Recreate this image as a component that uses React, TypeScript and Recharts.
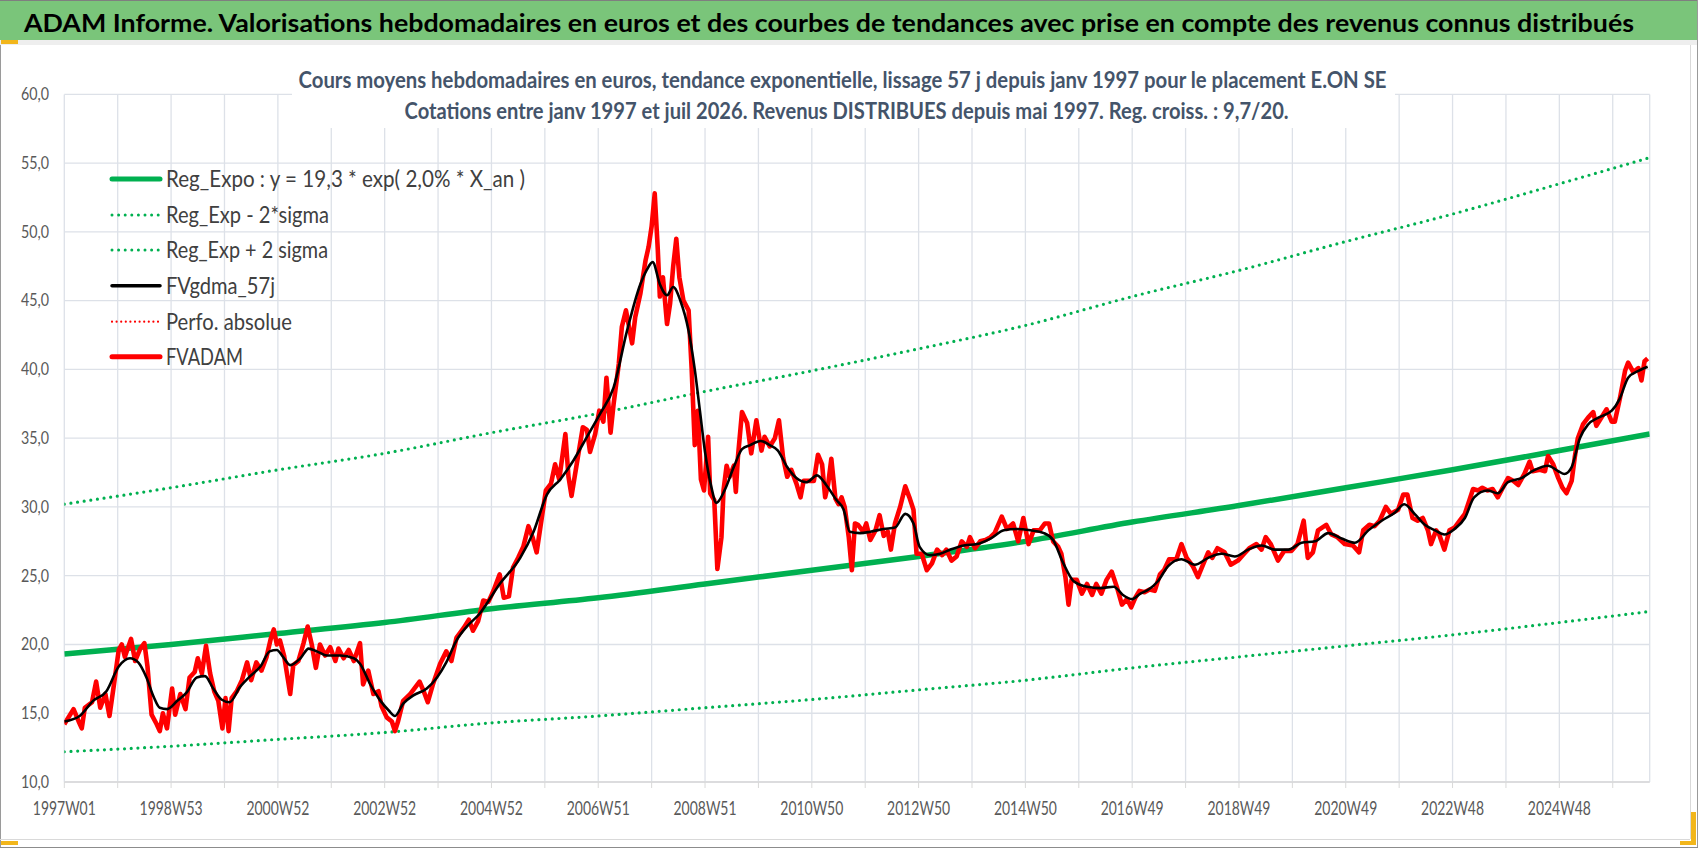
import React from 'react';
import { LineChart, Line, XAxis, YAxis, CartesianGrid } from 'recharts';

const TITLE = 'ADAM Informe. Valorisations hebdomadaires en euros et des courbes de tendances avec prise en compte des revenus connus distribués';
const SUBTITLE_1 = 'Cours moyens hebdomadaires en euros, tendance exponentielle, lissage 57 j depuis janv 1997 pour le placement E.ON SE';
const SUBTITLE_2 = 'Cotations entre janv 1997 et juil 2026. Revenus DISTRIBUES depuis mai 1997. Reg. croiss. : 9,7/20.';

// x = week index since 1997W01
const X_TICK_WEEKS = [0, 104, 208, 312, 416, 520, 624, 728, 832, 936, 1040, 1144, 1248, 1352, 1456];
const X_TICK_LABELS = ['1997W01', '1998W53', '2000W52', '2002W52', '2004W52', '2006W51', '2008W51', '2010W50', '2012W50', '2014W50', '2016W49', '2018W49', '2020W49', '2022W48', '2024W48'];
const GRID_WEEKS = [0, 52, 104, 156, 208, 260, 312, 364, 416, 468, 520, 572, 624, 676, 728, 780, 832, 884, 936, 988, 1040, 1092, 1144, 1196, 1248, 1300, 1352, 1404, 1456, 1508];
const Y_TICKS = [10, 15, 20, 25, 30, 35, 40, 45, 50, 55, 60];

const TREND_WEEKS = [0, 104, 208, 312, 416, 520, 624, 728, 832, 936, 1040, 1144, 1248, 1352, 1456, 1544];
const REG_EXPO = [19.3, 20.0, 20.8, 21.6, 22.6, 23.4, 24.4, 25.4, 26.4, 27.5, 28.9, 30.1, 31.4, 32.7, 34.1, 35.3];
const REG_MINUS = [12.2, 12.6, 13.1, 13.6, 14.3, 14.8, 15.4, 16.0, 16.7, 17.4, 18.3, 19.1, 19.9, 20.7, 21.6, 22.4];
const REG_PLUS = [30.2, 31.4, 32.7, 33.9, 35.4, 36.8, 38.4, 39.9, 41.5, 43.2, 45.3, 47.2, 49.3, 51.3, 53.5, 55.4];

const FVADAM: [number, number][] = [[0,14.2],[9,15.3],[14,14.4],[17,13.9],[20,15.4],[27,15.8],[31,17.3],[35,15.4],[40,16.4],[44,14.8],[48,16.9],[53,19.6],[56,20.0],[59,19.1],[65,20.4],[69,18.8],[74,19.7],[78,20.1],[81,18.4],[85,14.9],[90,14.2],[93,13.7],[96,15.0],[100,13.9],[105,16.8],[108,14.9],[113,16.4],[118,15.3],[122,17.6],[127,18.0],[130,19.0],[134,17.9],[138,19.9],[142,17.9],[146,16.6],[150,15.9],[154,13.9],[157,16.1],[160,13.7],[163,16.1],[168,16.6],[173,17.4],[178,18.7],[182,17.4],[187,18.7],[192,18.1],[197,19.1],[201,20.4],[204,21.1],[207,20.0],[210,20.3],[214,19.2],[220,16.4],[223,18.5],[228,18.8],[233,20.1],[237,21.3],[241,20.0],[245,18.3],[249,20.0],[254,19.2],[259,19.8],[264,18.8],[267,19.7],[272,19.0],[277,19.6],[282,18.8],[288,20.1],[291,17.1],[296,18.1],[301,16.4],[306,16.6],[309,15.5],[314,14.7],[319,14.4],[322,13.7],[325,14.4],[330,15.9],[337,16.4],[346,17.3],[350,16.6],[354,15.8],[359,17.1],[366,18.6],[372,19.5],[377,18.8],[382,20.5],[389,21.2],[394,21.8],[398,21.0],[403,21.7],[408,23.2],[413,23.1],[418,23.9],[424,25.1],[428,23.4],[433,23.5],[437,25.6],[442,26.3],[447,27.1],[452,28.6],[456,27.8],[460,26.7],[465,29.2],[469,31.2],[474,31.7],[478,33.1],[482,32.0],[488,35.3],[491,32.2],[494,30.8],[499,33.1],[505,35.8],[509,35.6],[512,34.0],[517,35.3],[521,37.0],[525,36.2],[528,39.4],[532,35.4],[535,37.5],[540,40.4],[543,43.1],[547,44.3],[553,41.9],[556,43.8],[561,45.5],[566,47.9],[569,48.9],[572,50.4],[575,52.8],[578,48.7],[580,45.3],[583,46.7],[587,43.3],[590,44.8],[593,47.5],[596,49.5],[599,46.7],[603,45.0],[608,44.3],[611,40.0],[614,34.5],[617,37.0],[620,32.0],[623,31.2],[627,35.1],[629,31.0],[633,30.5],[636,25.5],[640,27.8],[642,31.2],[645,33.0],[648,32.2],[652,33.0],[654,31.1],[656,33.6],[660,36.9],[665,36.1],[669,33.9],[674,36.3],[679,34.1],[682,35.1],[687,34.4],[692,35.0],[696,36.3],[700,33.6],[704,32.2],[708,32.7],[713,31.7],[717,30.7],[720,31.9],[725,31.9],[730,31.9],[734,33.8],[738,33.1],[741,30.7],[744,31.7],[747,33.5],[751,30.6],[754,30.2],[757,30.7],[760,30.0],[764,27.8],[767,25.4],[770,28.8],[773,28.7],[778,28.2],[781,28.8],[785,27.6],[790,28.3],[794,29.4],[798,27.9],[802,28.2],[805,26.9],[809,28.8],[814,30.0],[819,31.5],[823,30.7],[827,29.8],[830,26.6],[835,26.6],[840,25.4],[845,25.9],[850,26.9],[855,26.5],[859,26.9],[864,26.1],[869,26.4],[874,27.5],[879,27.1],[882,27.8],[887,27.0],[892,27.5],[897,27.6],[902,27.8],[906,28.1],[913,29.3],[918,28.4],[924,28.8],[929,27.5],[934,29.2],[939,27.3],[944,28.3],[950,28.3],[955,28.8],[959,28.8],[963,27.5],[968,27.1],[971,26.6],[975,24.9],[978,22.9],[981,24.7],[986,24.7],[991,23.7],[996,24.4],[1001,23.6],[1005,24.4],[1010,23.7],[1015,24.7],[1020,25.3],[1025,24.2],[1030,22.9],[1035,23.3],[1039,22.7],[1043,23.4],[1047,23.9],[1052,23.8],[1057,24.0],[1062,23.9],[1067,25.1],[1071,25.4],[1076,26.2],[1083,26.2],[1088,27.3],[1093,26.3],[1099,25.7],[1104,24.9],[1109,25.8],[1114,26.7],[1118,26.3],[1123,27.0],[1130,26.7],[1136,25.8],[1143,26.1],[1149,26.6],[1154,27.0],[1161,27.3],[1166,26.9],[1170,27.8],[1175,27.3],[1182,26.1],[1188,26.8],[1195,26.8],[1201,27.3],[1207,29.0],[1211,26.3],[1216,26.7],[1221,28.3],[1229,28.7],[1234,28.0],[1240,27.8],[1247,27.3],[1255,27.2],[1261,26.7],[1265,28.3],[1271,28.7],[1276,28.6],[1281,29.0],[1287,30.0],[1292,29.5],[1299,29.8],[1304,30.9],[1308,30.9],[1313,29.2],[1318,29.0],[1323,29.2],[1328,28.3],[1331,27.3],[1336,28.3],[1339,28.0],[1344,26.9],[1349,28.3],[1354,28.5],[1359,29.0],[1364,29.5],[1368,30.4],[1372,31.3],[1377,31.2],[1381,31.4],[1386,31.2],[1391,31.3],[1396,30.7],[1401,31.4],[1406,32.1],[1411,31.9],[1416,31.6],[1422,32.4],[1427,33.3],[1430,32.6],[1437,32.7],[1442,32.6],[1445,33.7],[1450,33.1],[1455,32.1],[1459,31.4],[1463,31.0],[1468,31.9],[1471,33.6],[1474,35.0],[1479,36.0],[1484,36.5],[1489,36.9],[1492,35.9],[1497,36.5],[1502,37.1],[1507,36.2],[1510,36.2],[1515,37.9],[1520,39.9],[1523,40.5],[1528,39.8],[1533,40.1],[1536,39.2],[1539,40.6],[1542,40.8]];

const FVGDMA_57J: [number, number][] = [[0,14.4],[15,14.8],[28,15.9],[41,16.6],[53,18.4],[64,19.0],[72,18.7],[80,17.6],[87,16.2],[93,15.4],[100,15.3],[110,15.9],[119,16.5],[129,17.6],[137,17.7],[145,16.8],[153,16.0],[161,15.8],[171,16.9],[181,17.7],[191,18.4],[200,19.5],[207,19.6],[213,19.1],[220,18.5],[230,19.0],[238,19.7],[246,19.5],[256,19.2],[269,19.2],[282,19.0],[288,18.6],[298,17.1],[308,15.9],[316,15.2],[322,14.8],[330,15.7],[340,16.3],[353,16.8],[363,17.6],[372,18.7],[382,20.3],[392,21.3],[404,22.2],[424,24.4],[444,26.3],[457,28.2],[470,30.9],[483,32.0],[496,33.4],[509,35.1],[522,36.8],[535,38.7],[548,42.8],[561,46.2],[567,47.2],[573,47.8],[580,46.2],[587,45.4],[593,46.0],[600,45.0],[608,42.8],[614,40.0],[619,37.0],[624,34.0],[630,31.5],[635,30.3],[643,31.2],[652,32.9],[660,34.2],[668,34.5],[678,34.8],[687,34.5],[695,34.1],[704,32.9],[713,32.1],[723,31.8],[733,32.3],[742,31.6],[752,30.5],[759,29.8],[765,28.2],[775,28.1],[785,28.2],[798,28.4],[809,28.5],[819,29.5],[827,28.8],[833,27.1],[843,26.5],[853,26.6],[863,26.9],[876,27.2],[889,27.3],[902,27.7],[915,28.3],[928,28.4],[941,28.3],[954,28.1],[963,27.6],[973,25.9],[983,24.6],[996,24.2],[1009,24.1],[1022,24.2],[1031,23.6],[1040,23.3],[1048,23.7],[1056,24.0],[1065,24.6],[1075,25.7],[1088,26.2],[1101,25.8],[1114,26.3],[1127,26.6],[1140,26.4],[1153,26.9],[1166,27.2],[1179,26.9],[1192,26.9],[1205,27.4],[1218,27.5],[1231,28.1],[1244,27.7],[1257,27.4],[1270,28.3],[1283,29.0],[1296,29.6],[1305,30.2],[1315,29.5],[1325,28.7],[1335,28.3],[1344,28.0],[1354,28.4],[1364,29.2],[1373,30.7],[1386,31.2],[1396,31.0],[1406,31.8],[1419,32.1],[1432,32.7],[1445,33.0],[1455,32.6],[1461,32.4],[1468,32.9],[1476,35.0],[1484,36.0],[1494,36.5],[1507,37.0],[1515,37.9],[1523,39.4],[1533,39.9],[1542,40.2]];

const LEGEND_LABELS = ['Reg_Expo : y = 19,3 * exp( 2,0% *  X_an )', 'Reg_Exp - 2*sigma', 'Reg_Exp + 2 sigma', 'FVgdma_57j', 'Perfo. absolue', 'FVADAM'];

const toPairs = (weeks: number[], vals: number[]) => weeks.map((w, i) => ({ w, v: vals[i] }));
const toObjs = (arr: [number, number][]) => arr.map(([w, v]) => ({ w, v }));

const regData = toPairs(TREND_WEEKS, REG_EXPO);
const minusData = toPairs(TREND_WEEKS, REG_MINUS);
const plusData = toPairs(TREND_WEEKS, REG_PLUS);
const redData = toObjs(FVADAM);
const blackData = toObjs(FVGDMA_57J);

const FONT = 'Lato, "Open Sans", "DejaVu Sans", sans-serif';
const GREEN = '#00B050';
const RED = '#FF0000';
const AXIS_TEXT = '#595959';

const XTick = (props: any) => {
  const { x, payload } = props;
  const idx = X_TICK_WEEKS.indexOf(payload.value);
  if (idx < 0) return <g />;
  return (
    <text x={x} y={815} textAnchor="middle" fontFamily={FONT} fontSize={18.5} fill={AXIS_TEXT} textLength={63} lengthAdjust="spacingAndGlyphs">
      {X_TICK_LABELS[idx]}
    </text>
  );
};

const YTick = (props: any) => {
  const { y, payload } = props;
  const label = Number(payload.value).toFixed(1).replace('.', ',');
  return (
    <text x={49} y={y + 5.8} textAnchor="end" fontFamily={FONT} fontSize={16.3} fill={AXIS_TEXT} textLength={28} lengthAdjust="spacingAndGlyphs">
      {label}
    </text>
  );
};

const legendWidths = [359, 163, 162, 109, 126, 77];
const legendY = [179, 215, 250, 285.7, 321.7, 356.7];

function LegendSample({ i, y }: { i: number; y: number }) {
  const x1 = 112, x2 = 160;
  if (i === 0) return <line x1={x1} y1={y} x2={x2} y2={y} stroke={GREEN} strokeWidth={5} strokeLinecap="round" />;
  if (i === 1 || i === 2) return <line x1={x1} y1={y} x2={x2} y2={y} stroke={GREEN} strokeWidth={3} strokeLinecap="round" strokeDasharray="0 6.6" />;
  if (i === 3) return <line x1={x1} y1={y} x2={x2} y2={y} stroke="#000" strokeWidth={3.5} strokeLinecap="round" />;
  if (i === 4) return <line x1={x1} y1={y} x2={x2} y2={y} stroke={RED} strokeWidth={2.2} strokeLinecap="round" strokeDasharray="0 4.6" />;
  return <line x1={x1} y1={y} x2={x2} y2={y} stroke={RED} strokeWidth={5} strokeLinecap="round" />;
}

export default function App() {
  return (
    <div style={{ position: 'absolute', left: 0, top: 0, width: 1698, height: 848, background: '#fff', overflow: 'hidden' }}>
      <div style={{ position: 'absolute', left: 0, top: 0 }}>
        <LineChart width={1698} height={848} margin={{ top: 94.4, right: 48.3, bottom: 0, left: 4.3 }}>
          <CartesianGrid stroke="#DDE1E8" strokeWidth={1.3} />
          <XAxis
            type="number"
            dataKey="w"
            domain={[0, 1544]}
            ticks={GRID_WEEKS}
            interval={0}
            height={66}
            allowDataOverflow
            tick={<XTick />}
            tickSize={6}
            tickLine={{ stroke: '#D9D9D9' }}
            axisLine={{ stroke: '#D9D9D9', strokeWidth: 1.3 }}
          />
          <YAxis
            type="number"
            domain={[10, 60]}
            ticks={Y_TICKS}
            interval={0}
            width={60}
            allowDataOverflow
            axisLine={false}
            tickLine={false}
            tick={<YTick />}
          />
          <Line data={regData} dataKey="v" type="monotone" stroke={GREEN} strokeWidth={5.5} dot={false} activeDot={false} isAnimationActive={false} />
          <Line data={minusData} dataKey="v" type="monotone" stroke={GREEN} strokeWidth={3.2} strokeLinecap="round" strokeDasharray="0 6.7" dot={false} activeDot={false} isAnimationActive={false} />
          <Line data={plusData} dataKey="v" type="monotone" stroke={GREEN} strokeWidth={3.2} strokeLinecap="round" strokeDasharray="0 6.7" dot={false} activeDot={false} isAnimationActive={false} />
          <Line data={redData} dataKey="v" type="linear" stroke={RED} strokeWidth={4.6} strokeLinejoin="round" dot={false} activeDot={false} isAnimationActive={false} />
          <Line data={blackData} dataKey="v" type="monotone" stroke="#000" strokeWidth={2.6} dot={false} activeDot={false} isAnimationActive={false} />
        </LineChart>
      </div>
      <svg width={1698} height={848} style={{ position: 'absolute', left: 0, top: 0, pointerEvents: 'none' }}>
        {/* title bar */}
        <rect x={0} y={0} width={1698} height={40} fill="#7AC57A" />
        <line x1={0} y1={0.5} x2={1698} y2={0.5} stroke="#7F7F7F" strokeWidth={1} />
        <rect x={0} y={40} width={1698} height={5} fill="#EEEEEE" />
        <text x={24} y={32} fontFamily={FONT} fontWeight={700} fontSize={25} fill="#000" textLength={1610} lengthAdjust="spacingAndGlyphs">{TITLE}</text>
        {/* subtitle box */}
        <rect x={292} y={46} width={1103} height={82} fill="#fff" />
        <text x={298.5} y={88.3} fontFamily={FONT} fontWeight={700} fontSize={23} fill="#44546A" textLength={1088} lengthAdjust="spacingAndGlyphs">{SUBTITLE_1}</text>
        <text x={404.6} y={119} fontFamily={FONT} fontWeight={700} fontSize={23} fill="#44546A" textLength={884} lengthAdjust="spacingAndGlyphs">{SUBTITLE_2}</text>
        {/* legend */}
        {LEGEND_LABELS.map((lab, i) => (
          <g key={lab}>
            <LegendSample i={i} y={legendY[i]} />
            <text x={166} y={legendY[i] + 8.3} fontFamily={FONT} fontSize={23} fill="#404040" textLength={legendWidths[i]} lengthAdjust="spacingAndGlyphs">{lab}</text>
          </g>
        ))}
        {/* frame */}
        <line x1={0.5} y1={45} x2={0.5} y2={848} stroke="#9A9A9A" strokeWidth={1} />
        <line x1={1690.5} y1={45} x2={1690.5} y2={839} stroke="#D9D9D9" strokeWidth={1} />
        <line x1={0} y1={839.5} x2={1690} y2={839.5} stroke="#D9D9D9" strokeWidth={1} />
        <line x1={1697.5} y1={0} x2={1697.5} y2={848} stroke="#9A9A9A" strokeWidth={1} />
        <line x1={0} y1={847.5} x2={1698} y2={847.5} stroke="#8C8C8C" strokeWidth={1} />
        <rect x={1} y={40} width={17} height={4} fill="#F2B61B" />
        <rect x={1} y={841} width={17} height={4} fill="#F2B61B" />
        <rect x={1691} y={812} width={5} height={33} fill="#F2B61B" />
        <rect x={1680} y={841} width={16} height={4} fill="#F2B61B" />
      </svg>
    </div>
  );
}
